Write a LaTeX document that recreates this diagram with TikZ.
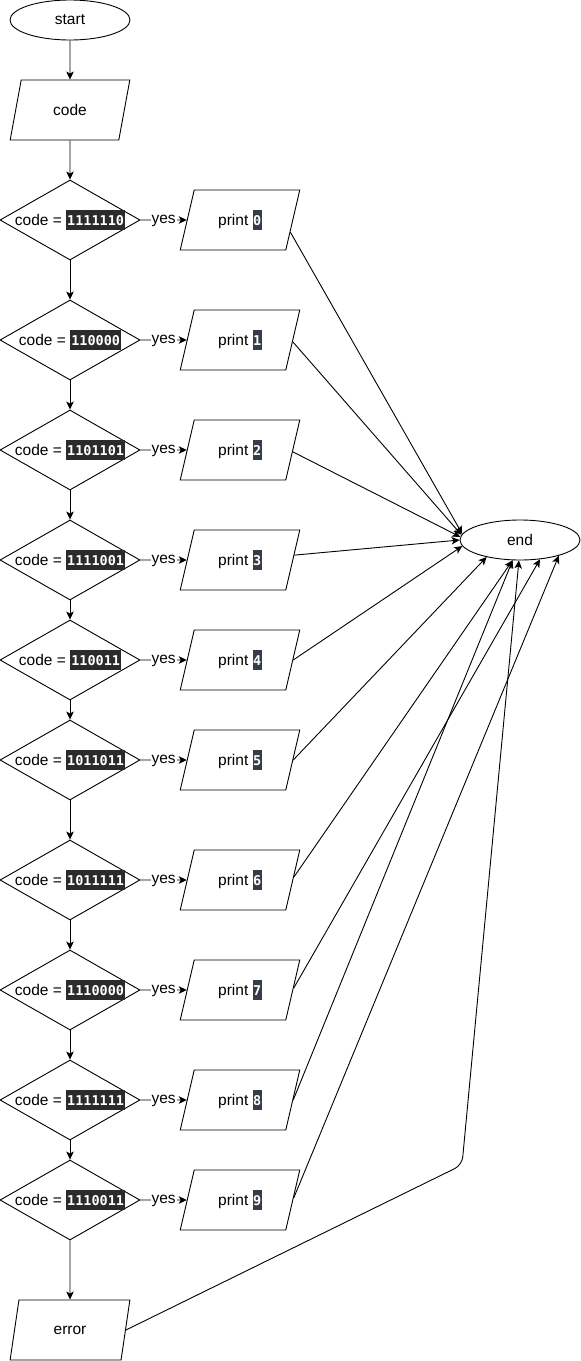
\documentclass[tikz,border=0pt]{standalone}
\usepackage{fontspec}
\setmainfont{Liberation Sans}
\newfontfamily\monof{DejaVu Sans Mono}
\usetikzlibrary{shapes.geometric,arrows.meta,calc}
\definecolor{codebg}{HTML}{2B2B2B}
\definecolor{printbg}{HTML}{363C4A}
\newcommand\cb[1]{{\setlength\fboxsep{0pt}\colorbox{codebg}{\rule[-5pt]{0pt}{20pt}\kern1pt\textcolor{white}{\monof\bfseries\fontsize{13.5}{15}\selectfont #1}\kern1pt}}}
\newcommand\pb[1]{{\setlength\fboxsep{0pt}\colorbox{printbg}{\rule[-5pt]{0pt}{20pt}\kern0.5pt\textcolor{white}{\monof\bfseries\fontsize{13.5}{15}\selectfont #1}\kern0.5pt}}}
\begin{document}
\begin{tikzpicture}[x=1pt,y=-1pt,
  base/.style={draw=black, line width=0.9pt, font=\fontsize{15.5}{17}\selectfont},
  term/.style={base, ellipse, minimum width=120pt, minimum height=40pt, inner sep=0pt},
  io/.style={base, trapezium, trapezium left angle=71.57, trapezium right angle=108.43, trapezium stretches=true, minimum width=120pt, minimum height=60pt, inner sep=0pt},
  dec/.style={base, diamond, aspect=1.75, minimum width=140pt, minimum height=80pt, inner sep=0pt},
  arr/.style={line width=0.9pt, -{Stealth[length=8pt,width=7.5pt,inset=2pt]}},
  yeslbl/.style={fill=white, inner sep=1pt, text height=7.5pt, text depth=0pt, font=\fontsize{15.5}{17}\selectfont}
]
\fill[white] (0,0) rectangle (581,1361);
\useasboundingbox (0,0) rectangle (581,1361);

\node[term] (start) at (70,20) {start};
\node[io] (code) at (70,110) {code};
\node[term] (end) at (520,540) {end};

\foreach \i/\y/\c in {0/220/1111110,1/340/110000,2/450/1101101,3/560/1111001,4/660/110011,5/760/1011011,6/880/1011111,7/990/1110000,8/1100/1111111,9/1200/1110011}{
  \node[dec, label={[font=\fontsize{15.5}{17}\selectfont]center:code = \cb{\c}}] (d\i) at (70,\y) {};
  \node[io] (p\i) at (240,\y) {print \pb{\i}};
  \draw[arr] (d\i.east) -- (p\i.west);
  \node[yeslbl] (y\i) at ($(d\i.east)!0.5!(p\i.west)$) {yes};
}
\node[io] (err) at (70,1330) {error};

\draw[arr] (start.south) -- (code.south |- code.north);
\draw[arr] (code.south) -- (d0.north);
\foreach \a/\b in {d0/d1,d1/d2,d2/d3,d3/d4,d4/d5,d5/d6,d6/d7,d7/d8,d8/d9}{
  \draw[arr] (\a.south) -- (\b.north);
}
\draw[arr] (d9.south) -- (err.south |- err.north);

\foreach \i/\f/\ang in {0/0.7/174,1/0.53/175,2/0.53/177,3/0.42/180,4/0.5/186,5/0.5/207,6/0.45/250,7/0.47/316,8/0.5/250,9/0.47/338}{
  \draw[arr] ($(p\i.top right corner)!\f!(p\i.bottom right corner)$) -- (end.\ang);
}
\coordinate (bend) at (462,1165);
\draw[arr, rounded corners=8pt] (err.east) -- (bend) -- (end.267);
\end{tikzpicture}
\end{document}
